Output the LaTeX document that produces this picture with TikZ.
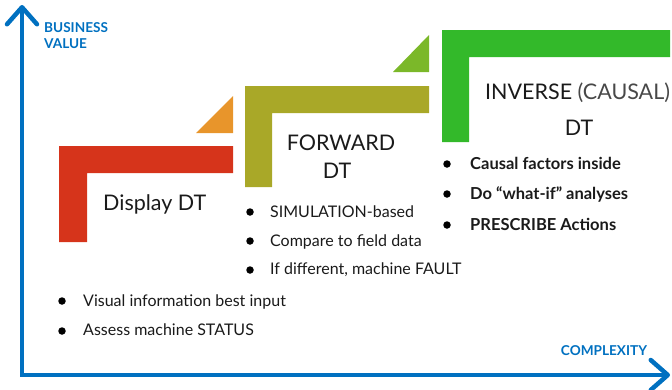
\documentclass[tikz,border=0pt]{standalone}
\usepackage{fontspec}
\setmainfont{Lato}
\usetikzlibrary{arrows.meta}
\definecolor{axisblue}{HTML}{0070C0}
\definecolor{cred}{HTML}{D6341B}
\definecolor{corange}{HTML}{E8952B}
\definecolor{colive}{HTML}{A9A828}
\definecolor{clgreen}{HTML}{7BB829}
\definecolor{cgreen}{HTML}{33B92A}
\definecolor{ctext}{HTML}{1A1A1A}
\begin{document}
\begin{tikzpicture}[x=1pt,y=-1pt,
  axis/.style={draw=axisblue,line width=4.5pt,line join=miter,
    arrows={Straight Barb[length=17pt,width=30pt,line cap=round,line join=round]-Straight Barb[length=17pt,width=30pt,line cap=round,line join=round]}},
  axlabel/.style={text=axisblue,font=\fontsize{13.6}{15}\selectfont\bfseries,inner sep=0pt},
  title/.style={text=ctext,font=\fontsize{21.5}{24}\selectfont,inner sep=0pt},
  item/.style={text=ctext,font=\fontsize{16}{18}\selectfont,inner sep=0pt,anchor=base west},
  bitem/.style={item,font=\fontsize{16.5}{18}\selectfont\bfseries},
  dot/.style={circle,fill=black,inner sep=0pt,minimum size=7.5pt}
]
\useasboundingbox (0,0) rectangle (672,389);
% axes
\coordinate (ytip) at (22,5);
\coordinate (o) at (22,375);
\coordinate (xtip) at (670,375);
\draw[axis] (ytip) -- (o) -- (xtip);
\node[axlabel,anchor=west,align=left] (bv) at (44,35.5) {BUSINESS\\[1pt]VALUE};
\node[axlabel] (cx) at (604,351) {COMPLEXITY};
% steps
\fill[cred] (59,146) -- (233,146) -- (233,173) -- (87,173) -- (87,242) -- (59,242) -- cycle;
\fill[corange] (196,133) -- (233,133) -- (233,96) -- cycle;
\fill[colive] (245,86) -- (429,86) -- (429,113) -- (272,113) -- (272,187) -- (245,187) -- cycle;
\fill[clgreen] (393,72) -- (429,72) -- (429,35) -- cycle;
\fill[cgreen] (442,30) -- (670,30) -- (670,57) -- (469,57) -- (469,142) -- (442,142) -- cycle;
% titles
\node[title,anchor=base west] (disp) at (103,210) {Display DT};
\node[title,anchor=base] (fwd1) at (341,150) {FORWARD};
\node[title,anchor=base] (fwd2) at (337,178) {DT};
\node[title,anchor=base west] (inv1) at (485,99) {INVERSE {\color{ctext!80}(CAUSAL)}};
\node[title,anchor=base] (inv2) at (579,135) {DT};
% display bullets
\node[dot] (d1) at (62,301) {};
\node[item] (t1) at (83,306) {Visual information best input};
\node[dot] (d2) at (62,331) {};
\node[item] (t2) at (83,335) {Assess machine STATUS};
% forward bullets
\node[dot] (f1) at (250,212) {};
\node[item] (u1) at (270,217) {SIMULATION-based};
\node[dot] (f2) at (250,241) {};
\node[item] (u2) at (270,246) {Compare to field data};
\node[dot] (f3) at (250,270) {};
\node[item] (u3) at (270,274) {If different, machine FAULT};
% inverse bullets
\node[dot] (i1) at (447,164) {};
\node[bitem] (v1) at (470,169) {Causal factors inside};
\node[dot] (i2) at (447,194) {};
\node[bitem] (v2) at (470,199) {Do “what-if” analyses};
\node[dot] (i3) at (447,225) {};
\node[bitem] (v3) at (470,230) {PRESCRIBE Actions};
\end{tikzpicture}
\end{document}
